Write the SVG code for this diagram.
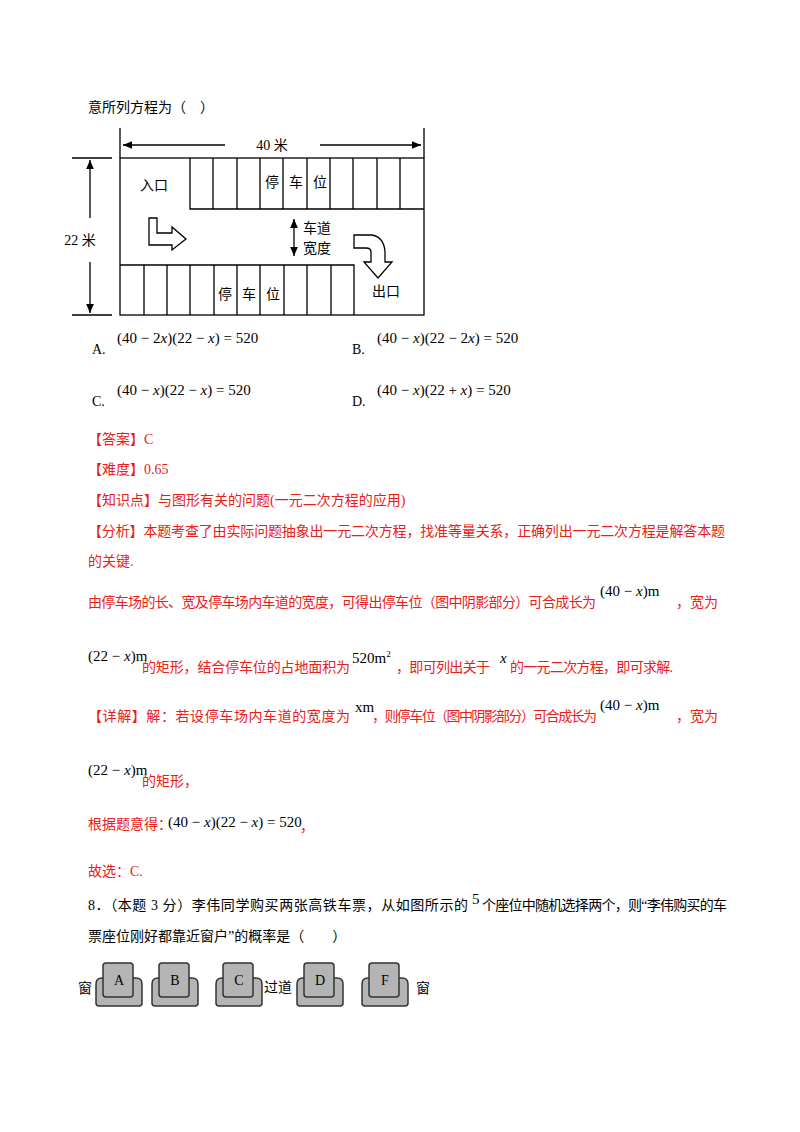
<svg xmlns="http://www.w3.org/2000/svg" width="800" height="1132" viewBox="0 0 800 1132">
<style>
.t{font-family:"Liberation Serif","Noto Sans CJK SC",serif;font-size:14px;fill:#000}
.r{font-family:"Liberation Serif","Noto Sans CJK SC",serif;font-size:14px;fill:#e8201a}
.m{font-family:"Liberation Serif",serif;font-size:15px;fill:#000}
.ln{stroke:#000;stroke-width:1.3;fill:none}
.seat{fill:#b4b4b4;stroke:#333;stroke-width:1.5}
</style>
<defs><marker id="ar" markerWidth="8" markerHeight="8" refX="7" refY="4" orient="auto"><path d="M0,1 L7,4 L0,7 z" fill="#000"/></marker></defs>
<rect width="800" height="1132" fill="#fff"/>
<text class="t" x="88" y="112">意所列方程为（　）</text>
<g id="parking">
<rect x="120" y="158" width="304" height="157" class="ln"/>
<path class="ln" d="M120,128V158M424,128V158M190,158V209H424M213,158V209M237,158V209M260,158V209M283,158V209M307,158V209M330,158V209M353,158V209M377,158V209M400,158V209"/>
<path class="ln" d="M120,265H354V315M144,265V315M167,265V315M190,265V315M214,265V315M237,265V315M260,265V315M284,265V315M307,265V315M331,265V315"/>
<path class="ln" d="M72,158H112M72,315H112"/>
<path class="ln" d="M225,145H123" marker-end="url(#ar)"/>
<path class="ln" d="M320,145H421" marker-end="url(#ar)"/>
<path class="ln" d="M90,218V160" marker-end="url(#ar)"/>
<path class="ln" d="M90,262V313" marker-end="url(#ar)"/>
<path class="ln" d="M294,237V219" marker-end="url(#ar)"/>
<path class="ln" d="M294,237V256" marker-end="url(#ar)"/>
<path class="ln" d="M149,218H157V233H172V227L186,239L172,250V245H149Z"/>
<path class="ln" d="M354,235H372Q384,237 385,252V262H392L378,278L364,262H371V252Q371,248 366,248H354Z"/>
<text class="t" x="272" y="150" text-anchor="middle">40 米</text>
<text class="t" x="80" y="245" text-anchor="middle">22 米</text>
<text class="t" x="140" y="190">入口</text>
<text class="t" x="265" y="187" letter-spacing="10">停车位</text>
<text class="t" x="218" y="299" letter-spacing="10">停车位</text>
<text class="t" x="303" y="233">车道</text>
<text class="t" x="303" y="253">宽度</text>
<text class="t" x="372" y="296">出口</text>
</g>
<g class="m">
<text x="92" y="354" font-size="14">A.</text><text x="117" y="343">(40 − 2<tspan font-style="italic">x</tspan>)(22 − <tspan font-style="italic">x</tspan>) = 520</text>
<text x="352" y="354" font-size="14">B.</text><text x="377" y="343">(40 − <tspan font-style="italic">x</tspan>)(22 − 2<tspan font-style="italic">x</tspan>) = 520</text>
<text x="92" y="406" font-size="14">C.</text><text x="117" y="395">(40 − <tspan font-style="italic">x</tspan>)(22 − <tspan font-style="italic">x</tspan>) = 520</text>
<text x="352" y="406" font-size="14">D.</text><text x="377" y="395">(40 − <tspan font-style="italic">x</tspan>)(22 + <tspan font-style="italic">x</tspan>) = 520</text>
</g>
<text class="r" x="88" y="444">【答案】C</text>
<text class="r" x="88" y="474">【难度】0.65</text>
<text class="r" x="88" y="505">【知识点】与图形有关的问题(一元二次方程的应用)</text>
<text class="r" x="88" y="536" textLength="637">【分析】本题考查了由实际问题抽象出一元二次方程，找准等量关系，正确列出一元二次方程是解答本题</text>
<text class="r" x="88" y="566">的关键.</text>
<text class="r" x="88" y="607" textLength="508">由停车场的长、宽及停车场内车道的宽度，可得出停车位（图中阴影部分）可合成长为</text>
<text class="m" x="600" y="596">(40 − <tspan font-style="italic">x</tspan>)m</text>
<text class="r" x="676" y="607">，宽为</text>
<text class="m" x="88" y="661" font-size="14">(22 − <tspan font-style="italic">x</tspan>)m</text>
<text class="r" x="142" y="672" textLength="208">的矩形，结合停车位的占地面积为</text>
<text class="m" x="352" y="663">520m<tspan font-size="9" dy="-6">2</tspan></text>
<text class="r" x="396" y="672" textLength="94">，即可列出关于</text>
<text class="m" x="500" y="663" font-style="italic">x</text>
<text class="r" x="510" y="672" textLength="163">的一元二次方程，即可求解.</text>
<text class="r" x="88" y="721" textLength="262">【详解】解：若设停车场内车道的宽度为</text>
<text class="m" x="355" y="712" font-size="11">xm</text>
<text class="r" x="372" y="721" textLength="225">，则停车位（图中阴影部分）可合成长为</text>
<text class="m" x="600" y="710">(40 − <tspan font-style="italic">x</tspan>)m</text>
<text class="r" x="676" y="721">，宽为</text>
<text class="m" x="88" y="775" font-size="14">(22 − <tspan font-style="italic">x</tspan>)m</text>
<text class="r" x="142" y="786">的矩形，</text>
<text class="r" x="88" y="829" font-size="12">根据题意得：</text>
<text class="m" x="168" y="827" font-size="14">(40 − <tspan font-style="italic">x</tspan>)(22 − <tspan font-style="italic">x</tspan>) = 520</text>
<text class="r" x="300" y="831">，</text>
<text class="r" x="88" y="876">故选：C.</text>
<text class="t" x="88" y="910" textLength="380">8．（本题 3 分）李伟同学购买两张高铁车票，从如图所示的</text>
<text class="m" x="472" y="904" font-size="13">5</text>
<text class="t" x="482" y="910" textLength="245">个座位中随机选择两个，则“李伟购买的车</text>
<text class="t" x="88" y="941">票座位刚好都靠近窗户”的概率是（　　）</text>
<g id="seats">
<defs><g id="seat">
<path class="seat" d="M0,22Q0,16 6,16H40Q46,16 46,22V41Q46,44 43,44H3Q0,44 0,41Z"/>
<path class="seat" d="M7,4Q7,1 10,1H34Q37,1 37,4V32Q37,35 34,35H10Q7,35 7,32Z"/>
</g></defs>
<use href="#seat" x="96" y="962"/><use href="#seat" x="152" y="962"/><use href="#seat" x="216" y="962"/><use href="#seat" x="297" y="962"/><use href="#seat" x="362" y="962"/>
<g class="t" text-anchor="middle"><text x="119" y="985">A</text><text x="175" y="985">B</text><text x="239" y="985">C</text><text x="320" y="985">D</text><text x="385" y="985">F</text></g>
<text class="t" x="78" y="993">窗</text><text class="t" x="264" y="992">过道</text><text class="t" x="416" y="993">窗</text>
</g>
</svg>
